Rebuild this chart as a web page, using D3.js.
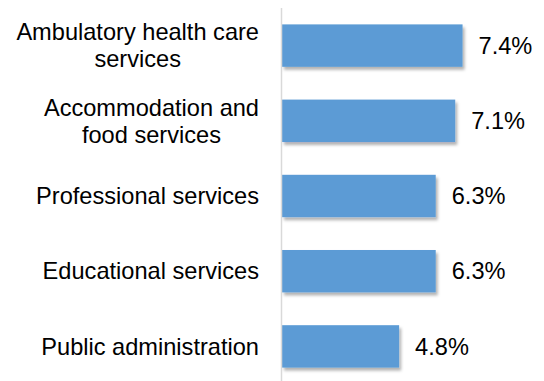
<!DOCTYPE html>
<html>
<head>
<meta charset="utf-8">
<script src="https://cdn.jsdelivr.net/npm/d3@7"></script>
<style>
  html, body { margin: 0; padding: 0; background: #fff; }
  svg { display: block; }
  text { font-family: "Liberation Sans", Arial, sans-serif; fill: #000; }
</style>
</head>
<body>
<svg id="chart" width="544" height="381"></svg>
<script>
// Industry categories (top to bottom), each label split into its display lines
const categories = [
  "Ambulatory health care services",
  "Accommodation and food services",
  "Professional services",
  "Educational services",
  "Public administration"
];
const labelLines = [
  ["Ambulatory health care", "services"],
  ["Accommodation and", "food services"],
  ["Professional services"],
  ["Educational services"],
  ["Public administration"]
];
// Percentage values per category
const values = [7.4, 7.1, 6.3, 6.3, 4.8];

const width = 544, height = 381;
const svg = d3.select("#chart");

const x = d3.scaleLinear().domain([0, 8]).range([282, 477.2]);
const y = d3.scaleBand()
  .domain(categories)
  .range([8, 384])
  .paddingInner(0.436)
  .paddingOuter(0.218);

// soft drop shadow under the bars
const defs = svg.append("defs");
const f = defs.append("filter").attr("id", "shadow")
  .attr("x", "-10%").attr("y", "-20%").attr("width", "130%").attr("height", "160%");
f.append("feDropShadow")
  .attr("dx", 2).attr("dy", 3).attr("stdDeviation", 1.6)
  .attr("flood-color", "#000").attr("flood-opacity", 0.3);

const rows = categories.map((c, i) => ({ cat: c, lines: labelLines[i], value: values[i] }));

// bars
svg.append("g").selectAll("rect")
  .data(rows)
  .join("rect")
  .attr("x", x(0))
  .attr("y", d => y(d.cat))
  .attr("width", d => x(d.value) - x(0))
  .attr("height", y.bandwidth())
  .attr("fill", "#5B9BD5")
  .attr("filter", "url(#shadow)");

// vertical category axis line
svg.append("line")
  .attr("x1", 281.5).attr("x2", 281.5)
  .attr("y1", 8).attr("y2", height)
  .attr("stroke", "#d9d9d9").attr("stroke-width", 1.5);

const fontSize = 23.6;
const lineH = 27;

// category labels: wrapped lines centred on one another, block right-aligned
const labels = svg.append("g").selectAll("g")
  .data(rows)
  .join("g");
labels.each(function(d) {
  const g = d3.select(this);
  const cy = y(d.cat) + y.bandwidth() / 2;
  const n = d.lines.length;
  // widest line sets the block's centre so its right edge sits at x=259
  const widths = d.lines.map(t => {
    const el = g.append("text").style("font-size", fontSize + "px").text(t);
    const w = el.node().getComputedTextLength();
    el.remove();
    return w;
  });
  const centre = 259 - d3.max(widths) / 2;
  d.lines.forEach((t, k) => {
    g.append("text")
      .attr("x", centre)
      .attr("y", cy + (k - (n - 1) / 2) * lineH)
      .attr("dy", "0.35em")
      .attr("text-anchor", "middle")
      .style("font-size", fontSize + "px")
      .text(t);
  });
});

// value labels
svg.append("g").selectAll("text")
  .data(rows)
  .join("text")
  .attr("x", d => x(d.value) + 16)
  .attr("y", d => y(d.cat) + y.bandwidth() / 2)
  .attr("dy", "0.35em")
  .style("font-size", fontSize + "px")
  .text(d => d.value.toFixed(1) + "%");
</script>
</body>
</html>
